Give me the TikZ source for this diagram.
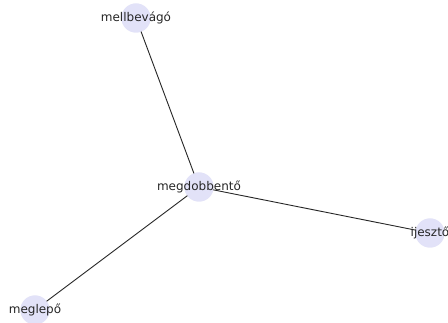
\documentclass[tikz,border=0pt]{standalone}
\usepackage{fontspec}
\setmainfont{DejaVu Sans}
\begin{document}
\begin{tikzpicture}[x=1pt,y=-1pt,
  vertex/.style={circle,fill=lavnode,draw=none,minimum size=29pt,inner sep=0pt},
  lbl/.style={font=\fontsize{12}{12}\selectfont,text=black!85,inner sep=0pt},
  edge/.style={draw=black!85,line width=0.9pt}]
\definecolor{lavnode}{HTML}{E2E2F8}
\useasboundingbox[fill=white] (0,0) rectangle (448,323);
\node[vertex] (a) at (136,18) {};
\node[vertex] (b) at (199,187) {};
\node[vertex] (c) at (430,233) {};
\node[vertex] (d) at (35,310) {};
\draw[edge] (a.center) -- (b.center);
\draw[edge] (b.center) -- (c.center);
\draw[edge] (b.center) -- (d.center);
\node[vertex] at (a) {};
\node[vertex] at (b) {};
\node[vertex] at (c) {};
\node[vertex] at (d) {};
\node[lbl] (ta) at (a) {mellbevágó};
\node[lbl] (tb) at (b) {megdobbentő};
\node[lbl] (tc) at (c) {ijesztő};
\node[lbl] (td) at (d) {meglepő};
\end{tikzpicture}
\end{document}
